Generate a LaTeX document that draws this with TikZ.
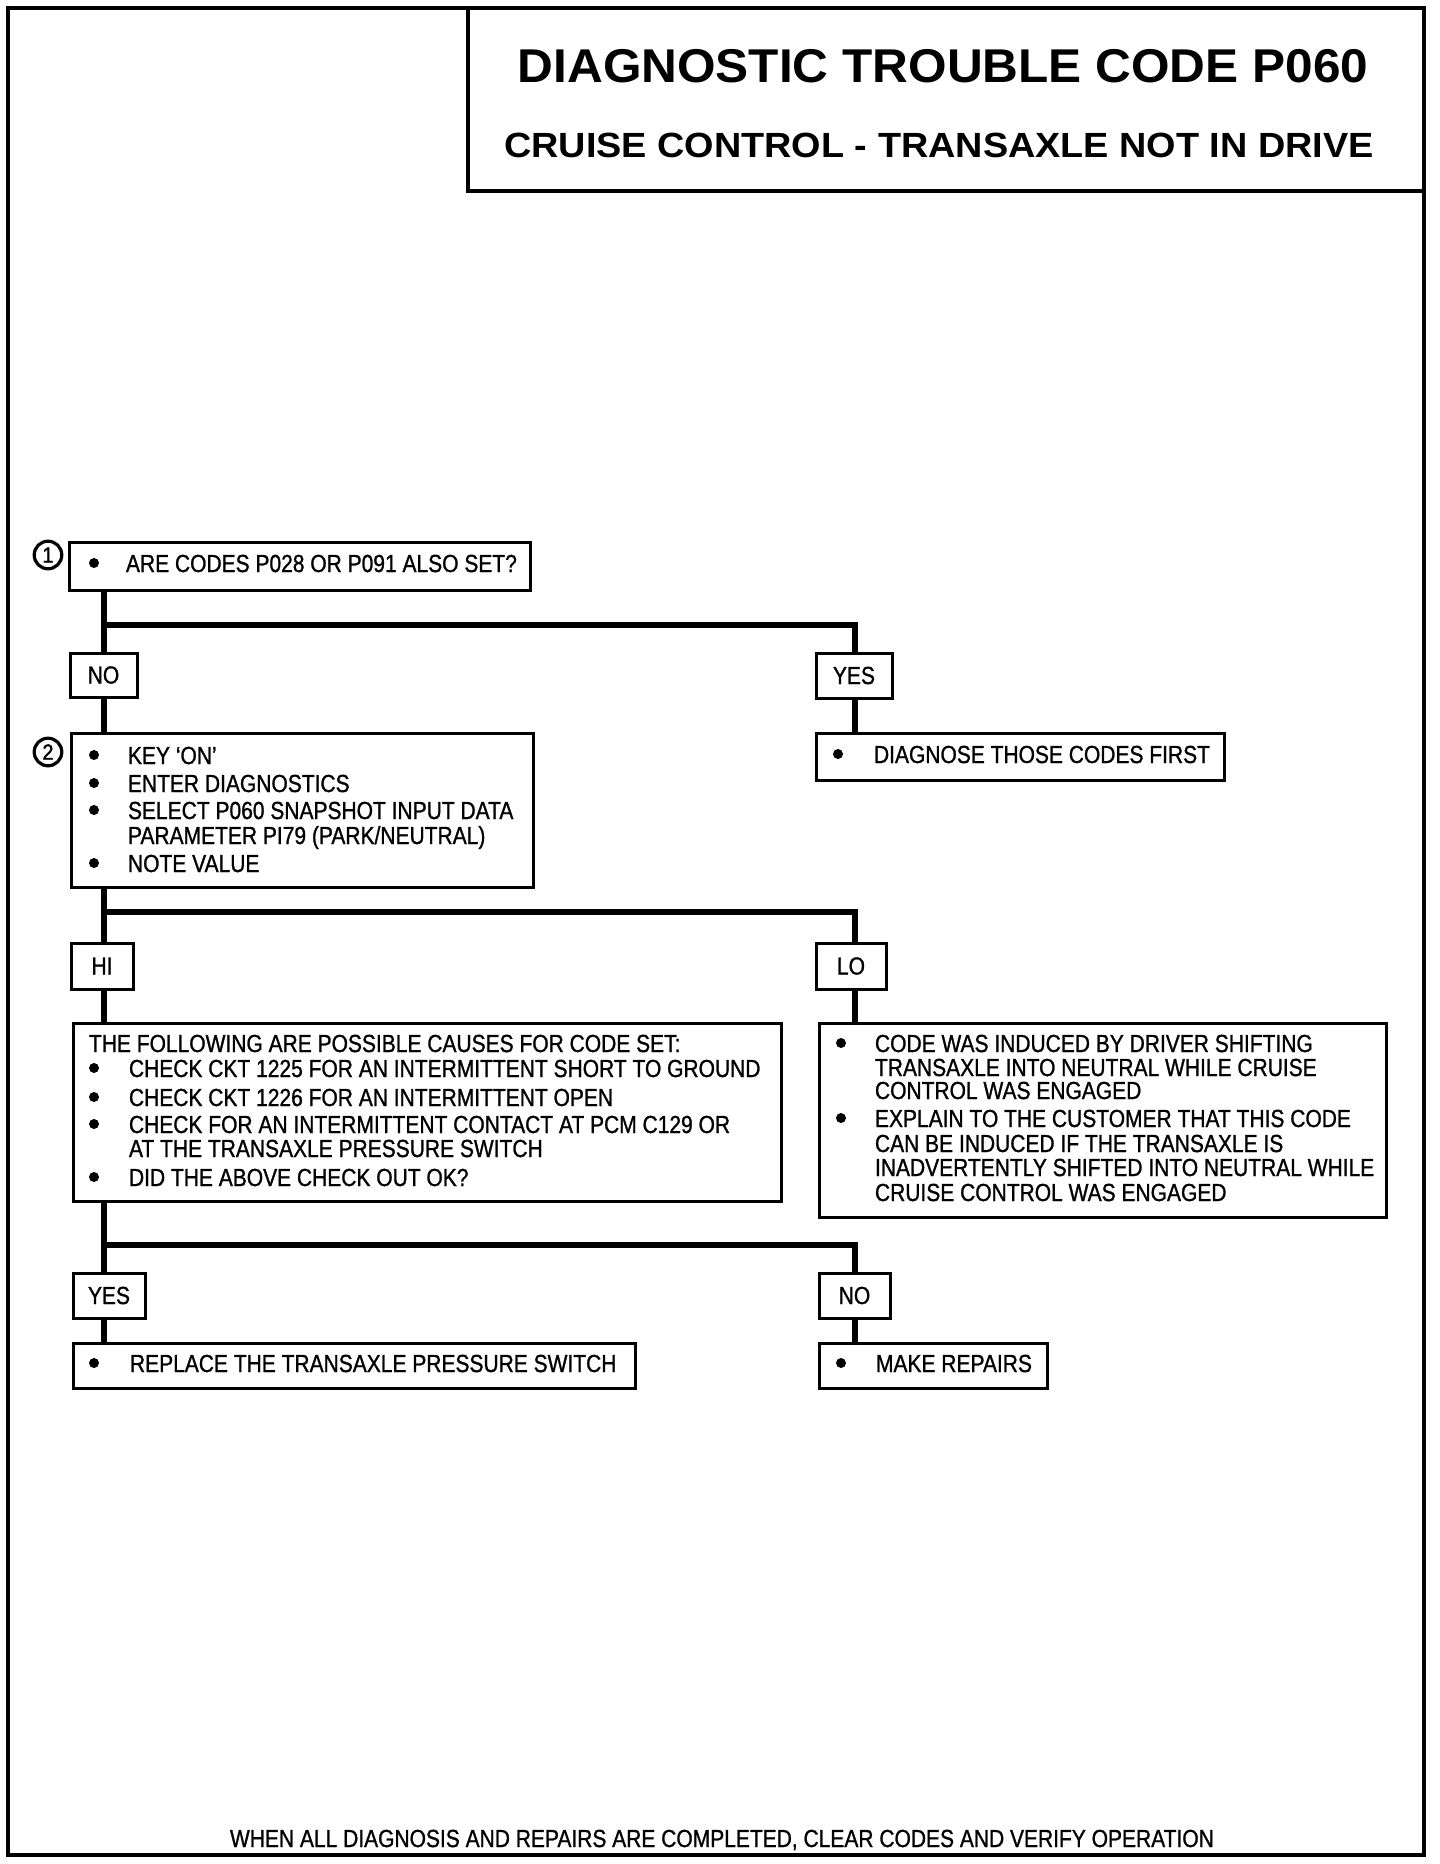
\documentclass[tikz,border=0pt]{standalone}
\usepackage{fontspec}
\setmainfont{Liberation Sans}
\newfontfamily\bodyfont{Liberation Sans}[FakeStretch=0.85,FakeBold=1]
\newfontfamily\numfont{Liberation Sans}[FakeStretch=0.9,FakeBold=1.5]
\newfontfamily\titlefont{Liberation Sans}[FakeStretch=1.045]
\newfontfamily\subfont{Liberation Sans}[FakeStretch=1.08]
\usetikzlibrary{calc}
\tikzset{
  box/.style={draw, line width=1.5pt, rectangle, inner sep=0pt, outer sep=0pt, anchor=north west, fill=white},
  lbl/.style={box, font=\bodyfont\fontsize{12.35pt}{14pt}\selectfont},
  txt/.style={anchor=base west, inner sep=0pt, outer sep=0pt, font=\bodyfont\fontsize{12.35pt}{14pt}\selectfont},
  conn/.style={line width=2.6pt},
  numc/.style={draw, circle, line width=1.6pt, minimum size=13.8pt, inner sep=0pt, font=\numfont\fontsize{11pt}{12pt}\selectfont},
  framestyle/.style={line width=2pt},
  titlebox/.style={draw, line width=2.2pt, rectangle, inner sep=0pt, outer sep=0pt, anchor=north west},
  bulletdot/.style={radius=2.5pt}
}
\begin{document}
\begin{tikzpicture}[x=0.5pt,y=-0.5pt]
\useasboundingbox (0,0) rectangle (1440,1864);
% frame and title
\draw[framestyle] (8,8) rectangle (1424,1855);
\node[titlebox, minimum width=478pt, minimum height=91.5pt] (tb) at (468,8) {};
\node[anchor=base, inner sep=0pt, font=\titlefont\bfseries\fontsize{23.7pt}{26pt}\selectfont] (title) at (943,82) {DIAGNOSTIC TROUBLE CODE P060};
\node[anchor=base, inner sep=0pt, font=\subfont\bfseries\fontsize{17.5pt}{20pt}\selectfont] (subtitle) at (939,157.5) {CRUISE CONTROL - TRANSAXLE NOT IN DRIVE};

% trunk coordinates
\coordinate (tl) at (104,0);
\coordinate (tr) at (855,0);
\coordinate (j1) at (104,625);
\coordinate (j2) at (104,912);
\coordinate (j3) at (104,1245);

% boxes
\node[box, minimum width=230.5pt, minimum height=24pt] (b1) at (69,542) {};
\node[lbl, minimum width=33.5pt, minimum height=22pt] (no1) at (70,653) {NO};
\node[lbl, minimum width=38pt, minimum height=22.5pt] (yes1) at (816,653) {YES};
\node[box, minimum width=204pt, minimum height=23.5pt] (diag) at (816,733) {};
\node[box, minimum width=231pt, minimum height=77pt] (b2) at (71,733) {};
\node[lbl, minimum width=31pt, minimum height=23pt] (hi) at (71,943) {HI};
\node[lbl, minimum width=35pt, minimum height=23pt] (lo) at (816,943) {LO};
\node[box, minimum width=354pt, minimum height=89pt] (cause) at (73,1023) {};
\node[box, minimum width=283.5pt, minimum height=97pt] (expl) at (819,1023) {};
\node[lbl, minimum width=36pt, minimum height=22.5pt] (yes2) at (73,1273) {YES};
\node[lbl, minimum width=35.5pt, minimum height=22.5pt] (no2) at (819,1273) {NO};
\node[box, minimum width=281pt, minimum height=22.5pt] (repl) at (73,1343) {};
\node[box, minimum width=114pt, minimum height=22.5pt] (rep) at (819,1343) {};

% connectors
\draw[conn] (b1.south -| tl) -- (no1.north -| tl);
\draw[conn] (j1) -| (yes1.north -| tr);
\draw[conn] (no1.south -| tl) -- (b2.north -| tl);
\draw[conn] (yes1.south -| tr) -- (diag.north -| tr);
\draw[conn] (b2.south -| tl) -- (hi.north -| tl);
\draw[conn] (j2) -| (lo.north -| tr);
\draw[conn] (hi.south -| tl) -- (cause.north -| tl);
\draw[conn] (lo.south -| tr) -- (expl.north -| tr);
\draw[conn] (cause.south -| tl) -- (yes2.north -| tl);
\draw[conn] (j3) -| (no2.north -| tr);
\draw[conn] (yes2.south -| tl) -- (repl.north -| tl);
\draw[conn] (no2.south -| tr) -- (rep.north -| tr);

% step numbers
\node[numc] (n1) at (48,555) {1};
\node[numc] (n2) at (48,752) {2};

% box 1
\fill (94,563) circle[bulletdot];
\node[txt] (t1) at (126,572) {ARE CODES P028 OR P091 ALSO SET?};
% diagnose
\fill (838,754) circle[bulletdot];
\node[txt] (t2) at (874,763) {DIAGNOSE THOSE CODES FIRST};
% box 2
\fill (94,755) circle[bulletdot];
\fill (94,783) circle[bulletdot];
\fill (94,810) circle[bulletdot];
\fill (94,863) circle[bulletdot];
\node[txt] (t3a) at (128,764) {KEY ‘ON’};
\node[txt] (t3b) at (128,792) {ENTER DIAGNOSTICS};
\node[txt] (t3c) at (128,819) {SELECT P060 SNAPSHOT INPUT DATA};
\node[txt] (t3d) at (128,844) {PARAMETER PI79 (PARK/NEUTRAL)};
\node[txt] (t3e) at (128,872) {NOTE VALUE};
% causes
\node[txt] (t4h) at (89,1052) {THE FOLLOWING ARE POSSIBLE CAUSES FOR CODE SET:};
\fill (94,1068) circle[bulletdot];
\fill (94,1097) circle[bulletdot];
\fill (94,1124) circle[bulletdot];
\fill (94,1177) circle[bulletdot];
\node[txt] (t4a) at (129,1077) {CHECK CKT 1225 FOR AN INTERMITTENT SHORT TO GROUND};
\node[txt] (t4b) at (129,1106) {CHECK CKT 1226 FOR AN INTERMITTENT OPEN};
\node[txt] (t4c) at (129,1133) {CHECK FOR AN INTERMITTENT CONTACT AT PCM C129 OR};
\node[txt] (t4d) at (129,1157) {AT THE TRANSAXLE PRESSURE SWITCH};
\node[txt] (t4e) at (129,1186) {DID THE ABOVE CHECK OUT OK?};
% explanation
\fill (841,1043) circle[bulletdot];
\fill (841,1118) circle[bulletdot];
\node[txt] (t5a) at (875,1052) {CODE WAS INDUCED BY DRIVER SHIFTING};
\node[txt] (t5b) at (875,1076) {TRANSAXLE INTO NEUTRAL WHILE CRUISE};
\node[txt] (t5c) at (875,1099) {CONTROL WAS ENGAGED};
\node[txt] (t5d) at (875,1127) {EXPLAIN TO THE CUSTOMER THAT THIS CODE};
\node[txt] (t5e) at (875,1152) {CAN BE INDUCED IF THE TRANSAXLE IS};
\node[txt] (t5f) at (875,1176) {INADVERTENTLY SHIFTED INTO NEUTRAL WHILE};
\node[txt] (t5g) at (875,1201) {CRUISE CONTROL WAS ENGAGED};
% replace
\fill (94,1363) circle[bulletdot];
\node[txt] (t6) at (130,1372) {REPLACE THE TRANSAXLE PRESSURE SWITCH};
% make repairs
\fill (841,1363) circle[bulletdot];
\node[txt] (t7) at (876,1372) {MAKE REPAIRS};
% footer
\node[txt] (foot) at (230,1847) {WHEN ALL DIAGNOSIS AND REPAIRS ARE COMPLETED, CLEAR CODES AND VERIFY OPERATION};
\end{tikzpicture}
\end{document}
